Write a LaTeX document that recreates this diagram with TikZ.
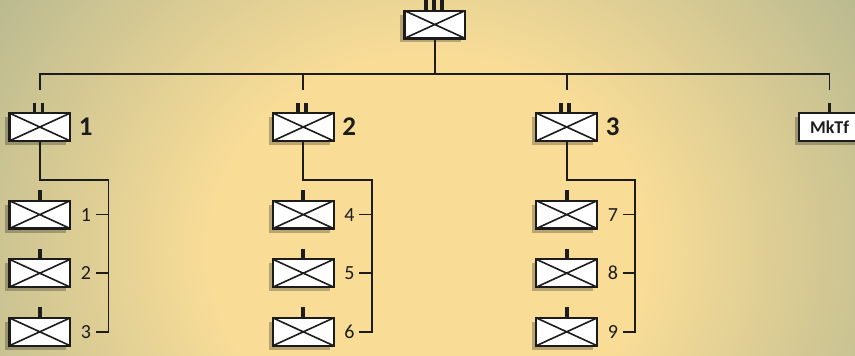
\documentclass[tikz,border=0pt]{standalone}
\usepackage{fontspec}
\setmainfont{Carlito}
\usetikzlibrary{positioning, shadows}

\definecolor{bgcentre}{HTML}{F9DD97}
\definecolor{bgedge}{HTML}{ADB38F}
\definecolor{ink}{HTML}{1C1C1C}

\pgfdeclareradialshading{vignette}{\pgfpoint{0bp}{0bp}}{color(0bp)=(bgcentre); color(12bp)=(bgcentre); color(32bp)=(bgedge); color(50bp)=(bgedge)}

\tikzset{
  unitbox/.style={draw=ink, line width=1.1pt, fill=white, minimum width=30.4pt, minimum height=13.9pt, inner sep=0pt,
    drop shadow={shadow xshift=-2pt, shadow yshift=-2pt, opacity=0.25, fill=black}},
  crossed/.style={unitbox, path picture={\draw[ink, line width=0.8pt]
    (path picture bounding box.north west) -- (path picture bounding box.south east)
    (path picture bounding box.south west) -- (path picture bounding box.north east);}},
  link/.style={draw=ink, line width=0.85pt},
  tick/.style={draw=ink, line width=1.9pt},
  coylabel/.style={inner sep=0pt, text=ink, font=\bfseries\fontsize{13.5}{14}\selectfont},
  pltlabel/.style={inner sep=0pt, text=ink, font=\fontsize{10}{11}\selectfont}
}

\begin{document}
\begin{tikzpicture}[x=0.5pt, y=-0.5pt]
  \useasboundingbox (0,0) rectangle (855,355);
  % Background
  \begin{scope}
    \clip (0,0) rectangle (855,355);
    \shade[shading=vignette] (-20,-150) rectangle (875,650);
  \end{scope}

  % Headquarters
  \node[crossed] (hq) at (434.8,24.5) {};
  \foreach \dx in {-4.4,-0.4,3.6}
    \draw[tick] ([xshift=\dx pt]hq.north) -- ++(0,4.6pt);

  % Companies
  \node[crossed] (coy1) at (39.8,127) {};
  \node[crossed] (coy2) at (303.3,127) {};
  \node[crossed] (coy3) at (566.7,127) {};
  \node[unitbox, text=ink, font=\bfseries\fontsize{9}{9}\selectfont] (mktf) at (829.5,127) {MkTf};
  \node[coylabel, right=3.6pt of coy1] (coy1num) {1};
  \node[coylabel, right=3.6pt of coy2] (coy2num) {2};
  \node[coylabel, right=3.6pt of coy3] (coy3num) {3};
  \foreach \n in {coy1,coy2,coy3}
    \foreach \dx in {-2.7,1.3}
      \draw[tick] ([xshift=\dx pt]\n.north) -- ++(0,4.6pt);
  \draw[tick] (mktf.north) -- ++(0,4.6pt);

  % Bus
  \foreach \n in {coy1,coy2,coy3,mktf}
    \path (\n.north) ++(0,18.9pt) coordinate (\n-bus) ++(0,-7.9pt) coordinate (\n-drop);
  \draw[link] (coy1-drop) -- (coy1-bus) -- (mktf-bus) -- (mktf-drop);
  \draw[link] (coy2-bus) -- (coy2-drop);
  \draw[link] (coy3-bus) -- (coy3-drop);
  \draw[link] (hq.south) -- (hq.south |- coy1-bus);

  % Platoons
  \foreach \g in {1,2,3} {
    \node[crossed, below=28.8pt of coy\g] (pl\g a) {};
    \node[crossed, below=14.3pt of pl\g a] (pl\g b) {};
    \node[crossed, below=14.3pt of pl\g b] (pl\g c) {};
    \foreach \p [count=\k] in {a,b,c} {
      \pgfmathtruncatemacro{\num}{3*(\g-1)+\k}
      \draw[tick] (pl\g\p.north) -- ++(0,4.7pt);
      \node[pltlabel, right=4.6pt of pl\g\p] (pl\g\p num) {\num};
    }
    \coordinate (rail\g) at ([xshift=34.3pt]pl\g c.center);
    \draw[link] (coy\g.south) -- ++(0,-18.9pt) -| (rail\g) -- ([xshift=28pt]pl\g c.center);
    \draw[link] ([xshift=28pt]pl\g a.center) -- (pl\g a.center -| rail\g);
    \draw[link] ([xshift=28pt]pl\g b.center) -- (pl\g b.center -| rail\g);
  }
\end{tikzpicture}
\end{document}
